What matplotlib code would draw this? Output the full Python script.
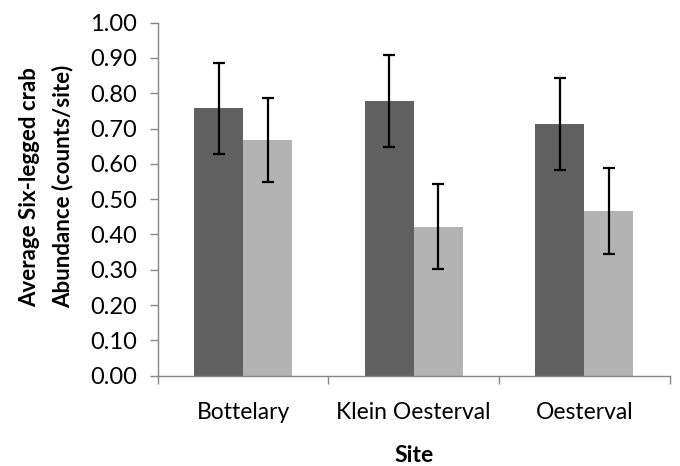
import matplotlib
matplotlib.use("Agg")
from matplotlib import pyplot as plt
import numpy as np

# Mean six-legged crab abundance per site, two survey groups
sites = ["Bottelary", "Klein Oesterval", "Oesterval"]
dark_means = [0.757, 0.778, 0.712]
light_means = [0.668, 0.422, 0.467]
dark_err = [0.130, 0.130, 0.130]
light_err = [0.120, 0.121, 0.121]

plt.rcParams["font.family"] = ["Lato", "DejaVu Sans"]

fig = plt.figure(figsize=(6.8, 4.66), dpi=100)
ax = fig.add_axes([0.2319, 0.1938, 0.753, 0.7575])

x = np.arange(len(sites))
w = 0.287
err_style = dict(ecolor="black", elinewidth=1.6, capsize=4.4, capthick=1.6)
ax.bar(x - w / 2, dark_means, w, color="#606060", yerr=dark_err,
       error_kw=err_style, zorder=2)
ax.bar(x + w / 2, light_means, w, color="#b3b3b3", yerr=light_err,
       error_kw=err_style, zorder=2)

ax.set_xlim(-0.5, len(sites) - 0.5)
ax.set_ylim(0, 1.0)
ax.set_yticks(np.arange(0, 1.01, 0.1))
ax.set_yticklabels([f"{v:.2f}" for v in np.arange(0, 1.01, 0.1)])

# category boundaries carry the tick marks, names sit between them
ax.set_xticks(np.arange(-0.5, len(sites), 1.0))
ax.set_xticklabels([])
ax.set_xticks(x, minor=True)
ax.set_xticklabels(sites, minor=True)
ax.tick_params(axis="x", which="minor", length=0, pad=19, labelsize=16.5)
ax.tick_params(axis="x", which="major", length=6, width=1, color="#868686")
ax.tick_params(axis="y", length=6, width=1, color="#868686", pad=9,
               labelsize=17)

for side in ["top", "right"]:
    ax.spines[side].set_visible(False)
for side in ["left", "bottom"]:
    ax.spines[side].set_color("#868686")
    ax.spines[side].set_linewidth(1)

ax.set_xlabel("Site", fontsize=16.5, fontweight="bold", labelpad=16)
ax.set_ylabel("Average Six-legged crab\nAbundance (counts/site)",
              fontsize=16, fontweight="bold", labelpad=10, linespacing=1.65)
ax.yaxis.set_label_coords(-0.165, 0.535)

fig.savefig("out.png", dpi=100)
